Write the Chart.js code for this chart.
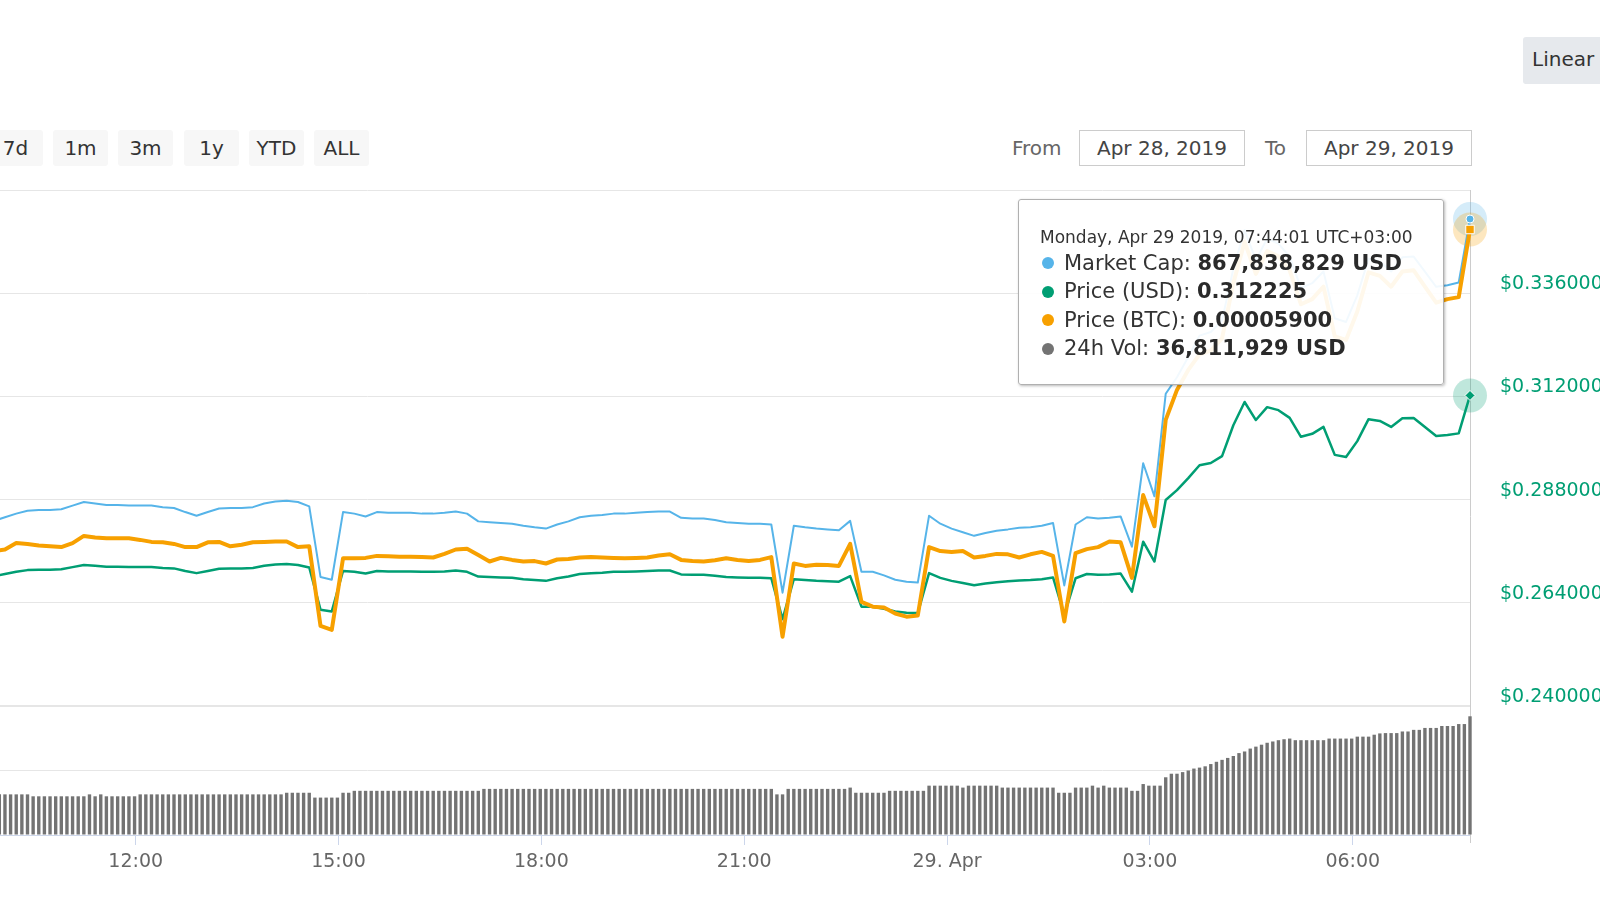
<!DOCTYPE html>
<html>
<head>
<meta charset="utf-8">
<script src="https://cdn.jsdelivr.net/npm/chart.js@4.4.1/dist/chart.umd.min.js"></script>
<style>
  html, body { margin: 0; padding: 0; background: #fff; overflow: hidden; width: 1600px; height: 900px; }
  body { position: relative; font-family: "DejaVu Sans", sans-serif; }
  #chart { position: absolute; left: 0; top: 0; }
  .range-btn { position: absolute; top: 130px; width: 55px; height: 36px; line-height: 36px;
    background: #f7f7f7; border-radius: 3px; font-size: 20px; color: #333; text-align: center; }
  .date-label { position: absolute; top: 130px; height: 36px; line-height: 36px; font-size: 20px; color: #666; }
  .date-box { position: absolute; top: 130px; width: 164px; height: 34px; line-height: 34px;
    border: 1px solid #ccc; font-size: 20px; color: #444; text-align: center; background: #fff; }
  #scale-btn { position: absolute; left: 1523px; top: 37px; width: 120px; height: 47px; line-height: 45px;
    background: #e6e9ed; border-radius: 3px; font-size: 20px; color: #333; padding-left: 9px; box-sizing: border-box; }
  #tip { position: absolute; top: 199px; width: 426px; height: 186px; box-sizing: border-box;
    background: rgba(255, 255, 255, 0.92); border: 1px solid #b0b0b0; border-radius: 3px;
    box-shadow: 1px 1px 3px rgba(0, 0, 0, 0.28); color: #333; padding: 27px 0 0 0; }
  #tip .head { font-size: 17px; line-height: 20px; padding-left: 21px; color: #333; }
  #tip .row { position: relative; font-size: 21px; line-height: 28.5px; padding-left: 45px; white-space: nowrap; }
  #tip .rows { margin-top: 1.75px; }
  #tip .dot { position: absolute; left: 23px; top: 8.5px; width: 12px; height: 12px; border-radius: 50%; }
  #tip b { font-weight: bold; color: #2a2a2a; }
</style>
</head>
<body>
<div class="range-btn" style="left:-12px">7d</div>
<div class="range-btn" style="left:53px">1m</div>
<div class="range-btn" style="left:118px">3m</div>
<div class="range-btn" style="left:184px">1y</div>
<div class="range-btn" style="left:249px">YTD</div>
<div class="range-btn" style="left:314px">ALL</div>
<div class="date-label" style="left:1012px">From</div>
<div class="date-box" style="left:1079px">Apr 28, 2019</div>
<div class="date-label" style="left:1265px">To</div>
<div class="date-box" style="left:1306px">Apr 29, 2019</div>
<div id="scale-btn">Linear</div>
<canvas id="chart" width="1700" height="900"></canvas>
<div id="tip"></div>
<script>
// times are minutes after Apr 28 00:00 (UTC+3)
const lineStartMinute = 594;
const lineStepMinutes = 10;
const volStartMinute = 599;
const volStepMinutes = 5;

// Price (USD), every 10 min
const priceUsd = [
  0.2702, 0.2707, 0.2712, 0.2716, 0.2717, 0.2717, 0.2718, 0.2723, 0.2728, 0.2726,
  0.2724, 0.2724, 0.2723, 0.2723, 0.2723, 0.2721, 0.2720, 0.2714, 0.2709, 0.2714,
  0.2719, 0.2720, 0.2720, 0.2721, 0.2726, 0.2729, 0.2730, 0.2728, 0.2722, 0.2624,
  0.2620, 0.2714, 0.2712, 0.2708, 0.2714, 0.2713, 0.2713, 0.2713, 0.2712, 0.2712,
  0.2713, 0.2715, 0.2712, 0.2701, 0.2700, 0.2699, 0.2698, 0.2695, 0.2693, 0.2691,
  0.2697, 0.2701, 0.2707, 0.2709, 0.2710, 0.2712, 0.2712, 0.2713, 0.2714, 0.2715,
  0.2715, 0.2706, 0.2705, 0.2705, 0.2703, 0.2700, 0.2699, 0.2698, 0.2698, 0.2697,
  0.2602, 0.2695, 0.2693, 0.2691, 0.2690, 0.2689, 0.2702, 0.2631, 0.2631, 0.2626,
  0.2620, 0.2617, 0.2616, 0.2709, 0.2698, 0.2691, 0.2686, 0.2681, 0.2685, 0.2688,
  0.2690, 0.2692, 0.2693, 0.2695, 0.2699, 0.2612, 0.2697, 0.2707, 0.2705, 0.2706,
  0.2708, 0.2666, 0.2782, 0.2736, 0.2879, 0.2902, 0.2930, 0.2960, 0.2965, 0.2981,
  0.3053, 0.3107, 0.3065, 0.3095, 0.3088, 0.3070, 0.3026, 0.3033, 0.3049, 0.2984,
  0.2979, 0.3016, 0.3067, 0.3063, 0.3049, 0.3069, 0.3070, 0.3049, 0.3028, 0.3030,
  0.3034, 0.312225
];

// Market Cap, millions of USD
const marketCapM = [
  751.0, 752.4, 753.8, 754.9, 755.2, 755.2, 755.5, 756.9, 758.3, 757.7,
  757.1, 757.1, 756.9, 756.9, 756.9, 756.3, 756.0, 754.4, 753.0, 754.4,
  755.8, 756.0, 756.0, 756.3, 757.7, 758.5, 758.8, 758.3, 756.6, 729.3,
  728.2, 754.4, 753.8, 752.7, 754.4, 754.1, 754.1, 754.1, 753.8, 753.8,
  754.1, 754.6, 753.8, 750.8, 750.5, 750.2, 749.9, 749.1, 748.5, 748.0,
  749.6, 750.8, 752.4, 753.0, 753.3, 753.8, 753.8, 754.1, 754.4, 754.6,
  754.6, 752.2, 751.9, 751.9, 751.3, 750.5, 750.2, 749.9, 749.9, 749.6,
  723.2, 749.1, 748.5, 748.0, 747.7, 747.4, 751.0, 731.3, 731.3, 729.9,
  728.2, 727.4, 727.1, 753.0, 749.9, 748.0, 746.6, 745.2, 746.3, 747.2,
  747.7, 748.3, 748.5, 749.1, 750.2, 726.0, 749.6, 752.4, 751.9, 752.2,
  752.7, 741.0, 773.3, 760.5, 800.2, 806.6, 814.4, 822.7, 824.1, 828.6,
  848.6, 863.6, 851.9, 860.3, 858.3, 853.3, 841.1, 843.0, 847.5, 829.4,
  828.0, 838.3, 852.5, 851.4, 847.5, 853.0, 853.3, 847.5, 841.6, 842.2,
  843.3, 867.838829
];

// Price (BTC), satoshi
const priceBtcSat = [
  5096, 5100, 5116, 5114, 5110, 5108, 5106, 5116, 5134, 5130,
  5128, 5128, 5128, 5124, 5119, 5118, 5114, 5106, 5106, 5118,
  5119, 5108, 5112, 5118, 5119, 5120, 5120, 5106, 5108, 4909,
  4899, 5078, 5078, 5079, 5084, 5083, 5082, 5082, 5081, 5080,
  5089, 5100, 5102, 5086, 5070, 5079, 5074, 5070, 5071, 5065,
  5075, 5076, 5080, 5081, 5080, 5079, 5078, 5079, 5080, 5085,
  5088, 5074, 5071, 5070, 5073, 5078, 5074, 5071, 5074, 5081,
  4882, 5065, 5059, 5062, 5061, 5059, 5114, 4969, 4957, 4955,
  4940, 4932, 4935, 5106, 5096, 5094, 5096, 5080, 5084, 5089,
  5088, 5080, 5088, 5094, 5084, 4920, 5091, 5101, 5106, 5120,
  5118, 5029, 5236, 5158, 5424, 5499, 5549, 5588, 5597, 5628,
  5766, 5869, 5789, 5846, 5833, 5798, 5713, 5726, 5757, 5633,
  5624, 5695, 5793, 5784, 5757, 5795, 5798, 5757, 5717, 5726,
  5731, 5900
];

// 24h Vol, millions of USD, every 5 min
const volumeM = [
  12.6, 12.6, 12.6, 12.6, 12.6, 12.6, 12.0, 12.0, 12.0, 12.0, 12.0, 12.0,
  12.0, 12.0, 12.0, 12.0, 12.6, 12.0, 12.6, 12.0, 12.0, 12.0, 12.0, 12.0,
  12.0, 12.6, 12.6, 12.6, 12.6, 12.6, 12.6, 12.6, 12.6, 12.6, 12.6, 12.6,
  12.6, 12.6, 12.6, 12.6, 12.6, 12.6, 12.6, 12.6, 12.6, 12.6, 12.6, 12.6,
  12.6, 12.6, 12.6, 13.1, 13.1, 13.1, 13.1, 13.1, 11.6, 11.6, 11.6, 11.6,
  11.6, 13.1, 13.1, 13.7, 13.7, 13.7, 13.7, 13.7, 13.7, 13.7, 13.7, 13.7,
  13.7, 13.7, 13.7, 13.7, 13.7, 13.7, 13.7, 13.7, 13.7, 13.7, 13.7, 13.7,
  13.7, 13.7, 14.3, 14.3, 14.3, 14.3, 14.3, 14.3, 14.3, 14.3, 14.3, 14.3,
  14.3, 14.3, 14.3, 14.3, 14.3, 14.3, 14.3, 14.3, 14.3, 14.3, 14.3, 14.3,
  14.3, 14.3, 14.3, 14.3, 14.3, 14.3, 14.3, 14.3, 14.3, 14.3, 14.3, 14.3,
  14.3, 14.3, 14.3, 14.3, 14.3, 14.3, 14.3, 14.3, 14.3, 14.3, 14.3, 14.3,
  14.3, 14.3, 14.3, 14.3, 14.3, 14.3, 12.6, 12.6, 14.3, 14.3, 14.3, 14.3,
  14.3, 14.3, 14.3, 14.3, 14.3, 14.3, 14.3, 14.7, 13.1, 13.1, 13.1, 13.1,
  13.1, 13.1, 13.7, 13.7, 13.7, 13.7, 13.7, 13.7, 13.7, 15.3, 15.3, 15.3,
  15.3, 15.3, 15.3, 14.7, 15.3, 15.3, 15.3, 15.3, 15.3, 15.3, 14.7, 14.7,
  14.7, 14.7, 14.7, 14.7, 14.7, 14.7, 14.7, 14.7, 13.1, 13.1, 13.1, 14.7,
  14.7, 14.7, 15.3, 14.7, 15.3, 14.7, 14.7, 14.7, 14.7, 13.7, 13.7, 15.8,
  15.3, 15.3, 15.3, 17.9, 19.0, 19.0, 19.5, 20.0, 20.6, 20.9, 21.3, 22.0,
  22.7, 23.3, 23.9, 24.5, 25.4, 25.9, 26.8, 27.4, 28.0, 28.6, 29.0, 29.4,
  29.7, 29.9, 29.4, 29.4, 29.4, 29.4, 29.4, 29.4, 29.9, 29.9, 29.9, 29.9,
  29.9, 30.5, 30.5, 30.5, 31.1, 31.5, 31.6, 31.6, 31.6, 32.1, 32.1, 32.6,
  32.6, 33.2, 33.2, 33.2, 33.8, 33.8, 33.8, 34.4, 34.4, 36.811929
];

const xTickMinutes = [720, 900, 1080, 1260, 1440, 1620, 1800];
const xTickLabels = ['12:00', '15:00', '18:00', '21:00', '29. Apr', '03:00', '06:00'];
const priceTicks = [0.24, 0.264, 0.288, 0.312, 0.336, 0.36];
const volumeTicks = [0, 20, 40];

const tooltipHeader = 'Monday, Apr 29 2019, 07:44:01 UTC+03:00';

const BLUE = '#56b4e9';
const GREEN = '#009e73';
const ORANGE = '#f7a000';
const GRAY = '#737373';
const FONT = 'DejaVu Sans';

const lineTimes = priceUsd.map((_, i) => lineStartMinute + i * lineStepMinutes);
const volTimes = volumeM.map((_, i) => volStartMinute + i * volStepMinutes);
const last = lineTimes.length - 1;

function pairs(times, values) {
  return times.map((t, i) => ({ x: t, y: values[i] }));
}

function lastOnly(r) {
  return ctx => (ctx.dataIndex === last ? r : 0);
}

const halo = {
  id: 'halo',
  beforeDatasetsDraw(chart) {
    const { ctx, chartArea, scales } = chart;
    const x = Math.round(scales.x.getPixelForValue(lineTimes[last])) + 0.5;
    ctx.save();
    // crosshair
    ctx.strokeStyle = '#cccccc';
    ctx.lineWidth = 1;
    ctx.beginPath();
    ctx.moveTo(x, chartArea.top);
    ctx.lineTo(x, chartArea.bottom + 8);
    ctx.stroke();
    [2, 1, 0].forEach(i => {
      const ds = chart.data.datasets[i];
      const pt = chart.getDatasetMeta(i).data[last];
      ctx.globalAlpha = 0.25;
      ctx.fillStyle = ds.borderColor;
      ctx.beginPath();
      ctx.arc(pt.x, pt.y, 17, 0, Math.PI * 2);
      ctx.fill();
    });
    ctx.restore();
  }
};

const RIGHT_AXIS_WIDTH = 230;
const tickFont = { family: FONT, size: 19 };

const chart = new Chart(document.getElementById('chart'), {
  type: 'line',
  data: {
    datasets: [
      {
        label: 'Price (BTC)', data: pairs(lineTimes, priceBtcSat), yAxisID: 'yBtc',
        borderColor: ORANGE, backgroundColor: ORANGE, borderWidth: 4, order: 0,
        pointStyle: 'rect', pointRadius: lastOnly(6), pointBorderColor: '#fff', pointBorderWidth: 1
      },
      {
        label: 'Price (USD)', data: pairs(lineTimes, priceUsd), yAxisID: 'yPrice',
        borderColor: GREEN, backgroundColor: GREEN, borderWidth: 2.5, order: 1,
        pointStyle: 'rectRot', pointRadius: lastOnly(5), pointBorderColor: '#fff', pointBorderWidth: 1
      },
      {
        label: 'Market Cap', data: pairs(lineTimes, marketCapM), yAxisID: 'yCap',
        borderColor: BLUE, backgroundColor: BLUE, borderWidth: 2, order: 2,
        pointStyle: 'circle', pointRadius: lastOnly(4), pointBorderColor: '#fff', pointBorderWidth: 1
      },
      {
        type: 'bar', label: '24h Vol', data: pairs(volTimes, volumeM), yAxisID: 'yVol',
        backgroundColor: GRAY, borderWidth: 0, order: 3,
        barPercentage: 0.6, categoryPercentage: 1, clip: false
      }
    ]
  },
  options: {
    responsive: false,
    animation: false,
    events: [],
    layout: { autoPadding: false, padding: { top: 190, left: 0, right: 0, bottom: 0 } },
    elements: { line: { tension: 0, borderJoinStyle: 'round', borderCapStyle: 'round' } },
    datasets: { line: { clip: false } },
    plugins: { legend: { display: false }, tooltip: { enabled: false } },
    scales: {
      x: {
        type: 'linear', position: 'bottom', min: 599.6, max: 1904, offset: false,
        afterBuildTicks: s => { s.ticks = xTickMinutes.map(v => ({ value: v })); },
        afterFit: s => { s.height = 65; },
        grid: {
          display: true, offset: false, drawOnChartArea: false, drawTicks: true,
          tickLength: 10, color: '#ccd6eb'
        },
        border: { display: true, color: '#ccd6eb' },
        ticks: {
          autoSkip: false, maxRotation: 0, padding: 6, color: '#666666', font: tickFont,
          callback: (v, i) => xTickLabels[i]
        }
      },
      yPrice: {
        type: 'linear', position: 'right', stack: 'panes', stackWeight: 4, min: 0.24, max: 0.36,
        afterBuildTicks: s => { s.ticks = priceTicks.map(v => ({ value: v })); },
        afterFit: s => { s.width = RIGHT_AXIS_WIDTH; },
        grid: {
          drawTicks: false, color: '#e6e6e6',
          lineWidth: c => (c.tick && c.tick.value === priceTicks[0] ? 2 : 1)
        },
        border: { display: false },
        ticks: {
          padding: 30, labelOffset: -9, color: GREEN, font: tickFont,
          callback: v => (v === priceTicks[priceTicks.length - 1] ? '' : '$' + v.toFixed(6))
        }
      },
      yVol: {
        type: 'linear', position: 'right', stack: 'panes', stackWeight: 1, min: 0, max: 40,
        afterBuildTicks: s => { s.ticks = volumeTicks.map(v => ({ value: v })); },
        afterFit: s => { s.width = RIGHT_AXIS_WIDTH; },
        grid: {
          drawTicks: false,
          color: c => (c.tick && c.tick.value === 0 ? 'rgba(0,0,0,0)' : '#e6e6e6'),
          lineWidth: c => (c.tick && c.tick.value === volumeTicks[volumeTicks.length - 1] ? 2 : 1)
        },
        border: { display: false },
        ticks: { display: false }
      },
      yCap: { type: 'linear', display: false, position: 'left', min: 629.4, max: 879.07 },
      yBtc: { type: 'linear', display: false, position: 'left', min: 4386.25, max: 5998.75 }
    }
  },
  plugins: [halo]
});

// tooltip for the last point
(function buildTooltip() {
  const tip = document.getElementById('tip');
  const px = chart.scales.x.getPixelForValue(lineTimes[last]);
  tip.style.left = Math.round(px - 26 - 426) + 'px';
  const rows = [
    [BLUE, 'Market Cap', Math.round(marketCapM[last] * 1e6).toLocaleString('en-US') + ' USD'],
    [GREEN, 'Price (USD)', priceUsd[last].toFixed(6)],
    [ORANGE, 'Price (BTC)', (priceBtcSat[last] * 1e-8).toFixed(8)],
    [GRAY, '24h Vol', Math.round(volumeM[volumeM.length - 1] * 1e6).toLocaleString('en-US') + ' USD']
  ];
  let html = '<div class="head">' + tooltipHeader + '</div><div class="rows">';
  rows.forEach(r => {
    html += '<div class="row"><span class="dot" style="background:' + r[0] + '"></span>' +
      r[1] + ': <b>' + r[2] + '</b></div>';
  });
  tip.innerHTML = html + '</div>';
})();
</script>
</body>
</html>
